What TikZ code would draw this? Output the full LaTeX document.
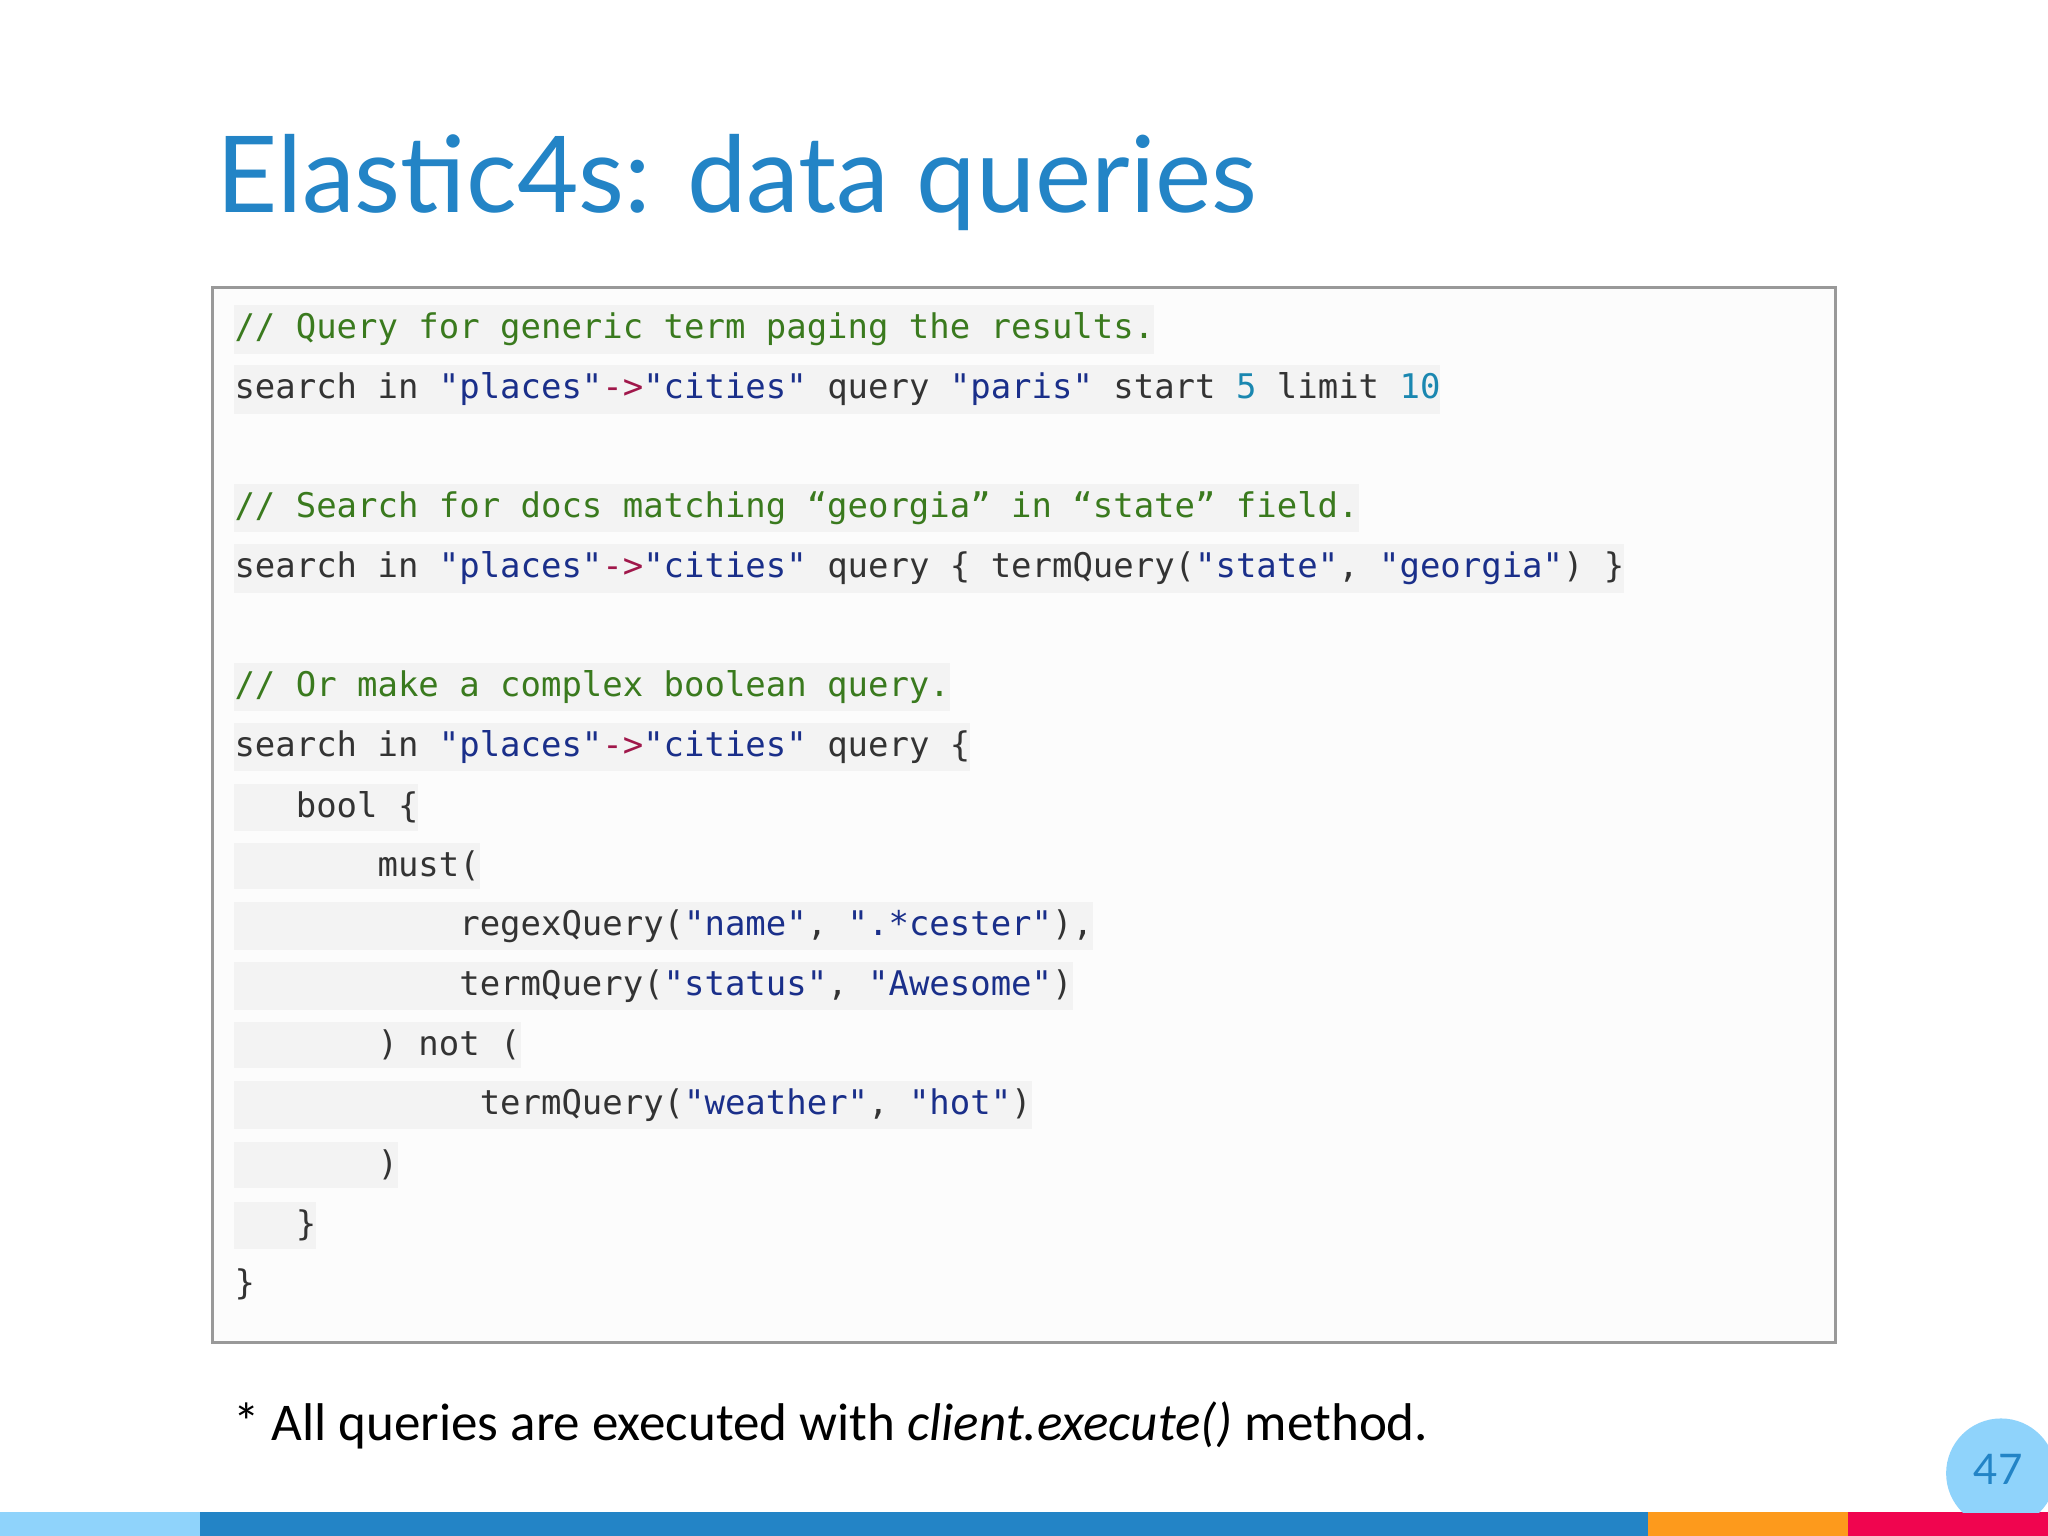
\documentclass[tikz,border=0pt]{standalone}
\usepackage{fontspec}
\setmainfont{Lato}
\setmonofont{DejaVu Sans Mono}
\newfontfamily\footfont{Carlito}
\definecolor{ttl}{HTML}{2384C6}
\definecolor{cm}{HTML}{3A7A1E}
\definecolor{st}{HTML}{1A2F8A}
\definecolor{ar}{HTML}{A0174A}
\definecolor{nm}{HTML}{1A87B0}
\definecolor{tx}{HTML}{333333}
\definecolor{hl}{HTML}{F3F3F3}
\definecolor{lb}{HTML}{8FD3FB}
\definecolor{og}{HTML}{FD9A1C}
\definecolor{rd}{HTML}{F0054F}
\newcommand{\cmt}[1]{\textcolor{cm}{#1}}
\newcommand{\str}[1]{\textcolor{st}{#1}}
\newcommand{\arr}{\textcolor{ar}{->}}
\newcommand{\nmb}[1]{\textcolor{nm}{#1}}
\begin{document}
\begin{tikzpicture}[x=0.01306cm,y=-0.01306cm,
  codeline/.style={anchor=west,fill=hl,inner xsep=0pt,inner ysep=2.2pt,text=tx,font=\ttfamily\fontsize{9.66}{11}\selectfont}]
\useasboundingbox (0,0) rectangle (1568,1176);
\fill[white] (0,0) rectangle (1568,1176);
\node[anchor=base west,text=ttl,font=\fontsize{30.2}{36}\selectfont,inner sep=0pt] (title) at (165,163) {Elastic4s: data queries};
\draw[draw=black!40,fill=black!1,line width=0.8pt] (163,220) rectangle (1405,1028);
\node[codeline] (l1) at (179,252) {\cmt{// Query for generic term paging the results.}};
\node[codeline] (l2) at (179,298) {search in \str{"places"}\arr\str{"cities"} query \str{"paris"} start \nmb{5} limit \nmb{10}};
\node[codeline] (l3) at (179,389) {\cmt{// Search for docs matching “georgia” in “state” field.}};
\node[codeline] (l4) at (179,435) {search in \str{"places"}\arr\str{"cities"} query \{ termQuery(\str{"state"}, \str{"georgia"}) \}};
\node[codeline] (l5) at (179,526) {\cmt{// Or make a complex boolean query.}};
\node[codeline] (l6) at (179,572) {search in \str{"places"}\arr\str{"cities"} query \{};
\node[codeline] (l7) at (179,618) {\ \ \ bool \{};
\node[codeline] (l8) at (179,663) {\ \ \ \ \ \ \ must(};
\node[codeline] (l9) at (179,709) {\ \ \ \ \ \ \ \ \ \ \ regexQuery(\str{"name"}, \str{".*cester"}),};
\node[codeline] (l10) at (179,755) {\ \ \ \ \ \ \ \ \ \ \ termQuery(\str{"status"}, \str{"Awesome"})};
\node[codeline] (l11) at (179,800) {\ \ \ \ \ \ \ ) not (};
\node[codeline] (l12) at (179,846) {\ \ \ \ \ \ \ \ \ \ \ \ termQuery(\str{"weather"}, \str{"hot"})};
\node[codeline] (l13) at (179,892) {\ \ \ \ \ \ \ )};
\node[codeline] (l14) at (179,938) {\ \ \ \}};
\node[codeline,fill=none] (l15) at (179,983) {\}};
\node[anchor=base west,inner sep=0pt,font=\footfont\fontsize{15.1}{18}\selectfont] (foot) at (178,1103) {* All queries are executed with \textit{client.execute()} method.};
\fill[lb] (0,1158) rectangle (153,1176);
\fill[ttl] (153,1158) rectangle (1262,1176);
\fill[og] (1262,1158) rectangle (1415,1176);
\fill[rd] (1415,1158) rectangle (1568,1176);
\begin{scope}
\clip (0,0) rectangle (1568,1158);
\fill[lb] (1532,1128) circle (42);
\end{scope}
\node[text=ttl,font=\fontsize{12}{14}\selectfont] (num) at (1530,1125) {47};
\end{tikzpicture}
\end{document}
